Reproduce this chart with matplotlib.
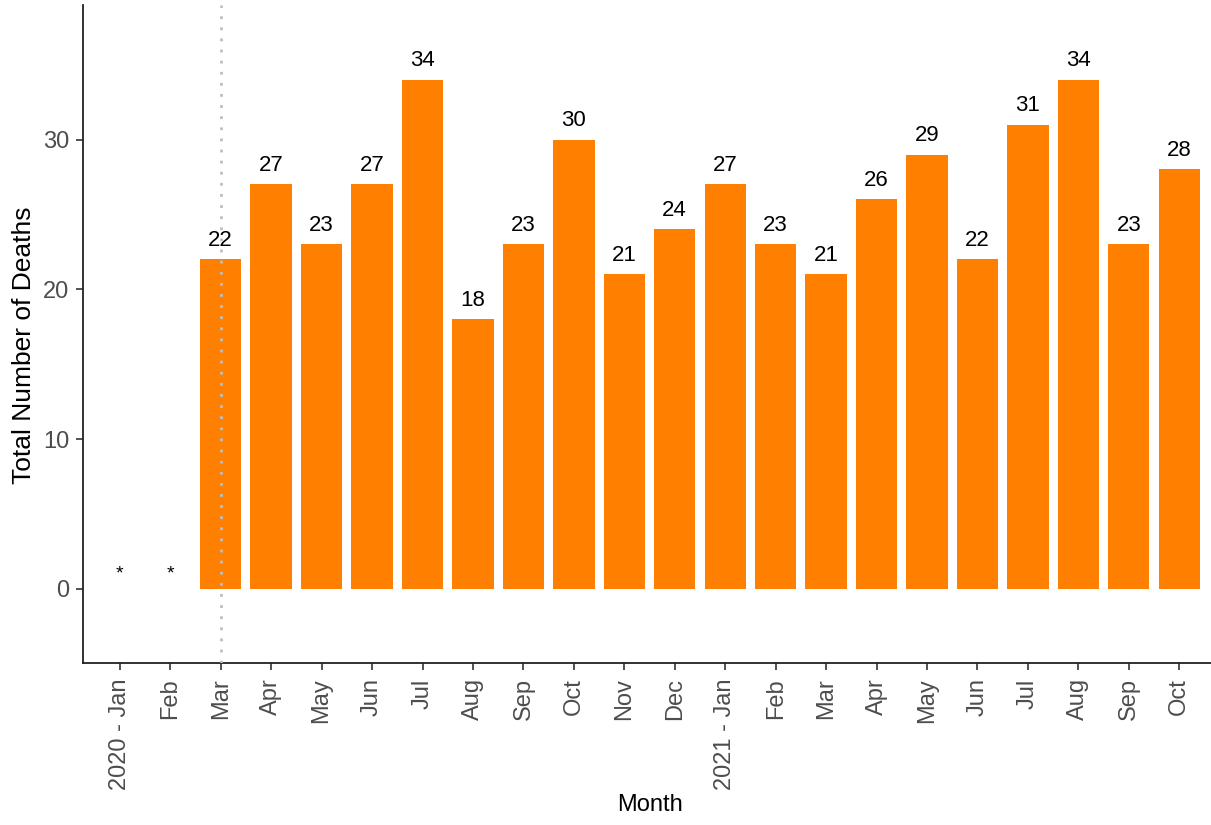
import matplotlib
matplotlib.use("Agg")
import matplotlib.pyplot as plt
import numpy as np

months = ["2020 - Jan", "Feb", "Mar", "Apr", "May", "Jun", "Jul", "Aug", "Sep", "Oct",
          "Nov", "Dec", "2021 - Jan", "Feb", "Mar", "Apr", "May", "Jun", "Jul", "Aug",
          "Sep", "Oct"]
deaths = [None, None, 22, 27, 23, 27, 34, 18, 23, 30, 21, 24, 27, 23, 21, 26, 29, 22,
          31, 34, 23, 28]
suppressed_y = 1
marker_month = 2  # vertical dotted line at Mar 2020

plt.rcParams['font.family'] = ['Liberation Sans', 'DejaVu Sans']

fig = plt.figure(figsize=(12.11, 8.25), dpi=100)
ax = fig.add_axes([83/1211, 1 - 663/825, 1 - 83/1211, (663 - 5)/825])

x = np.arange(len(months))
bar_x = [xi for xi, v in zip(x, deaths) if v is not None]
bar_h = [v for v in deaths if v is not None]
ax.bar(bar_x, bar_h, width=0.82, color="#FF7F00", zorder=2)

for xi, v in zip(x, deaths):
    if v is None:
        ax.text(xi, suppressed_y, "*", ha="center", va="center", fontsize=14,
                color="black", zorder=4)
    else:
        ax.annotate(str(v), (xi, v), xytext=(0, 6), textcoords="offset points",
                    ha="center", va="bottom", fontsize=16, color="black", zorder=4)

ax.axvline(marker_month, color="#BEBEBE", linestyle=(0, (1, 3)), linewidth=2, zorder=3)

ax.set_xlim(-0.73, len(months) - 1 + 0.63)
ax.set_ylim(-4.94, 38.98)
ax.set_xticks(x)
ax.set_xticklabels(months, rotation=90)
ax.set_yticks([0, 10, 20, 30])

for s in ["top", "right"]:
    ax.spines[s].set_visible(False)
for s in ["left", "bottom"]:
    ax.spines[s].set_color("#222222")
    ax.spines[s].set_linewidth(1.3)

ax.tick_params(axis="both", colors="#333333", labelcolor="#4D4D4D", labelsize=17,
               length=5, width=1.2, pad=5)
ax.tick_params(axis="x", pad=6)

ax.set_xlabel("Month", fontsize=17, color="black")
ax.xaxis.set_label_coords((650 - 83) / 1128, -(805 - 663) / 658)
ax.set_ylabel("Total Number of Deaths", fontsize=19, color="black")
ax.yaxis.set_label_coords((24 - 83) / 1128, (663 - 345) / 658)
ax.yaxis.label.set_va("center")
ax.xaxis.label.set_va("center")

fig.savefig("out.png", dpi=100)
